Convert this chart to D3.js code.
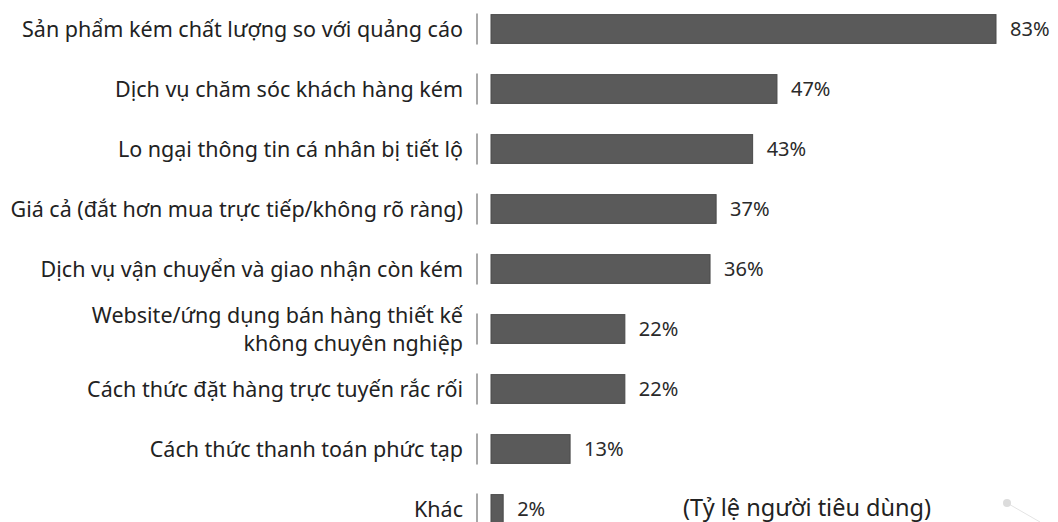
<!DOCTYPE html>
<html>
<head>
<meta charset="utf-8">
<script src="https://cdn.jsdelivr.net/npm/d3@7"></script>
<style>
  body { margin: 0; background: #fff; }
  svg { display: block; font-family: "Noto Sans", "Open Sans", sans-serif; }
</style>
</head>
<body>
<svg id="chart"></svg>
<script>
// Data
var categories = [
    ["Sản phẩm kém chất lượng so với quảng cáo"],
    ["Dịch vụ chăm sóc khách hàng kém"],
    ["Lo ngại thông tin cá nhân bị tiết lộ"],
    ["Giá cả (đắt hơn mua trực tiếp/không rõ ràng)"],
    ["Dịch vụ vận chuyển và giao nhận còn kém"],
    ["Website/ứng dụng bán hàng thiết kế", "không chuyên nghiệp"],
    ["Cách thức đặt hàng trực tuyến rắc rối"],
    ["Cách thức thanh toán phức tạp"],
    ["Khác"]
];
var values = [83, 47, 43, 37, 36, 22, 22, 13, 2];
var unitNote = "(Tỷ lệ người tiêu dùng)";

// Dimensions
var width = 1058, height = 522;
var svg = d3.select("#chart").attr("width", width).attr("height", height);

var x = d3.scaleLinear().domain([0, 83]).range([491, 996]);
var y = d3.scaleBand()
    .domain(d3.range(values.length))
    .range([-1, 539])
    .paddingInner(0.52)
    .paddingOuter(0.26);

var rows = svg.selectAll("g.row")
    .data(values)
    .enter()
    .append("g")
    .attr("class", "row");

// bars
rows.append("rect")
    .attr("x", x(0))
    .attr("y", (d, i) => y(i))
    .attr("width", d => x(d) - x(0))
    .attr("height", y.bandwidth())
    .attr("fill", "#5a5a5a")
    .attr("stroke", "#4a4a4a")
    .attr("stroke-width", 1);

// small separator ticks
rows.append("line")
    .attr("x1", 477).attr("x2", 477)
    .attr("y1", (d, i) => y(i) - 1)
    .attr("y2", (d, i) => y(i) + y.bandwidth() + 1)
    .attr("stroke", "#a8a8a8")
    .attr("stroke-width", 2);

// value labels
rows.append("text")
    .attr("x", d => x(d) + 14)
    .attr("y", (d, i) => y(i) + y.bandwidth() / 2)
    .attr("dy", "0.35em")
    .attr("font-size", 20)
    .attr("fill", "#2a2a2a")
    .text(d => d + "%");

// category labels
rows.append("text")
    .attr("text-anchor", "end")
    .attr("font-size", 21.5)
    .attr("fill", "#222")
    .each(function (d, i) {
        var lines = categories[i];
        var cy = y(i) + y.bandwidth() / 2;
        var t = d3.select(this);
        lines.forEach(function (ln, k) {
            t.append("tspan")
                .attr("x", 463)
                .attr("y", cy + (k - (lines.length - 1) / 2) * 28)
                .attr("dy", "0.35em")
                .text(ln);
        });
    });

// unit note
svg.append("text")
    .attr("x", 683)
    .attr("y", 516)
    .attr("font-size", 23.5)
    .attr("fill", "#222")
    .text(unitNote);

// faint decoration bottom right
svg.append("line")
    .attr("x1", 1007).attr("y1", 503)
    .attr("x2", 1040).attr("y2", 522)
    .attr("stroke", "#e4e4e4").attr("stroke-width", 1);
svg.append("circle")
    .attr("cx", 1007).attr("cy", 503).attr("r", 4)
    .attr("fill", "#dcdcdc");
</script>
</body>
</html>
